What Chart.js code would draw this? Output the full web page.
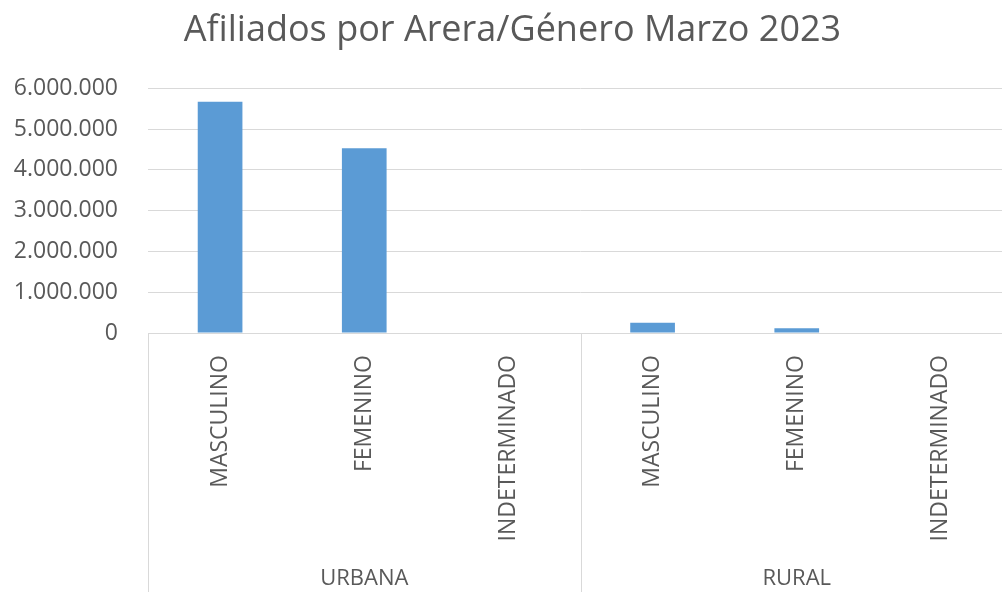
<!DOCTYPE html>
<html>
<head>
<meta charset="utf-8">
<script src="https://cdn.jsdelivr.net/npm/chart.js@4"></script>
<style>
  html, body { margin: 0; padding: 0; background: #fff; overflow: hidden; }
  #wrap { width: 1002px; height: 592px; overflow: hidden; }
  #box { width: 1016px; height: 592px; }
</style>
</head>
<body>
<div id="wrap"><div id="box"><canvas id="chart"></canvas></div></div>
<script>
const groups = ["URBANA", "RURAL"];
const genders = ["MASCULINO", "FEMENINO", "INDETERMINADO"];
const afiliados = [5670000, 4530000, 0, 250000, 115000, 0];
const yTicks = [0, 1000000, 2000000, 3000000, 4000000, 5000000, 6000000];

const labels = groups.flatMap(() => genders);
const groupStarts = groups.map((g, i) => i * genders.length).concat(groups.length * genders.length);

const grey = "#595959";
const lineGrey = "#d9d9d9";

// vertical separators under the axis between groups
const groupLines = {
  id: "groupLines",
  afterDraw(chart) {
    const x = chart.scales.x, ctx = chart.ctx;
    const half = (x.getPixelForValue(1) - x.getPixelForValue(0)) / 2;
    ctx.save();
    ctx.strokeStyle = lineGrey;
    ctx.lineWidth = 1;
    groupStarts.forEach(i => {
      const px = Math.round(x.getPixelForValue(i) - half) + 0.5;
      ctx.beginPath();
      ctx.moveTo(px, chart.chartArea.bottom);
      ctx.lineTo(px, chart.height);
      ctx.stroke();
    });
    ctx.restore();
  }
};

new Chart(document.getElementById("chart"), {
  type: "bar",
  data: {
    labels: labels,
    datasets: [{
      label: "Afiliados",
      data: afiliados,
      backgroundColor: "#5b9bd5",
      barPercentage: 0.31,
      categoryPercentage: 1
    }]
  },
  options: {
    responsive: true,
    maintainAspectRatio: false,
    animation: false,
    layout: { padding: { left: 12, right: 3, top: 10, bottom: 0 } },
    plugins: {
      legend: { display: false },
      tooltip: { enabled: false },
      title: {
        display: true,
        text: "Afiliados por Arera/Género Marzo 2023",
        color: grey,
        font: { family: "Open Sans", size: 36, weight: "normal", lineHeight: 1.15 },
        padding: { top: 0, bottom: 37 }
      }
    },
    scales: {
      y: {
        min: 0,
        max: 6000000,
        afterBuildTicks: (s) => { s.ticks = yTicks.map(v => ({ value: v })); },
        afterFit: (s) => { s.width = 136; },
        ticks: {
          color: grey,
          padding: 30,
          font: { family: "Open Sans", size: 23 },
          callback: (v) => String(v).replace(/\B(?=(\d{3})+(?!\d))/g, ".")
        },
        grid: { color: lineGrey, lineWidth: 1, drawTicks: false },
        border: { display: false }
      },
      x: {
        afterFit: (s) => { s.height = 210; },
        ticks: {
          color: grey,
          minRotation: 90,
          maxRotation: 90,
          padding: 22,
          autoSkip: false,
          font: { family: "Open Sans", size: 23 }
        },
        grid: { display: false, drawTicks: false },
        border: { display: true, color: lineGrey, width: 1 }
      },
      x2: {
        type: "category",
        labels: groups,
        position: "bottom",
        offset: true,
        afterFit: (s) => { s.height = 49; },
        ticks: {
          color: grey,
          padding: 23,
          font: { family: "Open Sans", size: 22 }
        },
        grid: { display: false, drawTicks: false },
        border: { display: false }
      }
    }
  },
  plugins: [groupLines]
});
</script>
</body>
</html>
